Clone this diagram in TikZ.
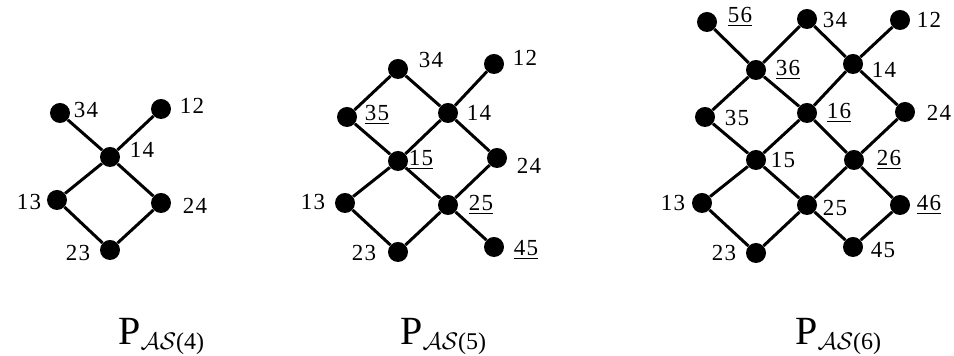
\documentclass[tikz,border=0pt]{standalone}
\usepackage{fontspec}
\setmainfont{Liberation Serif}
\newfontfamily\lblfont[LetterSpace=6]{Liberation Serif}
\newcommand{\capsub}[1]{\raisebox{-2.5pt}{\fontsize{12}{14}\selectfont$\mathcal{AS}$(#1)}}

\begin{document}
\begin{tikzpicture}[x=0.5pt, y=-0.5pt,
  dot/.style={circle, fill=black, inner sep=0pt, minimum size=10pt},
  lbl/.style={font=\fontsize{11.5}{13}\lblfont, inner sep=0pt},
  edge/.style={line width=1.5pt},
  capt/.style={font=\fontsize{20}{24}\selectfont, inner sep=0pt, anchor=base west}]
\useasboundingbox (0,0) rectangle (954,356);
% P_AS(4)
\node[dot] (a34) at (60,113) {};
\node[dot] (a12) at (161,109) {};
\node[dot] (a14) at (110,157) {};
\node[dot] (a13) at (57,200) {};
\node[dot] (a24) at (161,203) {};
\node[dot] (a23) at (110,250) {};
\draw[edge] (a34) -- (a14) -- (a12);
\draw[edge] (a14) -- (a13) -- (a23) -- (a24) -- (a14);
\node[lbl] (ta34) at (86,110) {34};
\node[lbl] (ta12) at (192,106) {12};
\node[lbl] (ta14) at (142,150) {14};
\node[lbl] (ta13) at (29,202) {13};
\node[lbl] (ta24) at (195,206) {24};
\node[lbl] (ta23) at (78,253) {23};
\node[capt] (capa) at (118,345) {P\capsub{4}};
% P_AS(5)
\node[dot] (b34) at (398,69) {};
\node[dot] (b12) at (494,64) {};
\node[dot] (b35) at (347,117) {};
\node[dot] (b14) at (448,113) {};
\node[dot] (b15) at (398,161) {};
\node[dot] (b24) at (497,158) {};
\node[dot] (b13) at (345,203) {};
\node[dot] (b25) at (448,205) {};
\node[dot] (b23) at (398,252) {};
\node[dot] (b45) at (494,247) {};
\draw[edge] (b35) -- (b34) -- (b14) -- (b12);
\draw[edge] (b35) -- (b15) -- (b14) -- (b24) -- (b25) -- (b45);
\draw[edge] (b15) -- (b13) -- (b23) -- (b25) -- (b15);
\node[lbl] (tb34) at (431,60) {34};
\node[lbl] (tb12) at (525,58) {12};
\node[lbl] (tb35) at (377,115) {\underline{35}};
\node[lbl] (tb14) at (479,113) {14};
\node[lbl] (tb15) at (421,160) {\underline{15}};
\node[lbl] (tb24) at (529,166) {24};
\node[lbl] (tb13) at (313,202) {13};
\node[lbl] (tb25) at (481,205) {\underline{25}};
\node[lbl] (tb23) at (364,253) {23};
\node[lbl] (tb45) at (526,250) {\underline{45}};
\node[capt] (capb) at (400,345) {P\capsub{5}};
% P_AS(6)
\node[dot] (c56) at (707,22) {};
\node[dot] (c34) at (807,19) {};
\node[dot] (c12) at (900,20) {};
\node[dot] (c36) at (756,70) {};
\node[dot] (c14) at (853,64) {};
\node[dot] (c35) at (705,117) {};
\node[dot] (c16) at (807,113) {};
\node[dot] (c24) at (905,112) {};
\node[dot] (c15) at (756,160) {};
\node[dot] (c26) at (854,160) {};
\node[dot] (c13) at (702,203) {};
\node[dot] (c25) at (807,205) {};
\node[dot] (c46) at (900,205) {};
\node[dot] (c23) at (756,253) {};
\node[dot] (c45) at (853,247) {};
\draw[edge] (c56) -- (c36) -- (c34) -- (c14) -- (c12);
\draw[edge] (c35) -- (c36) -- (c16) -- (c14) -- (c24);
\draw[edge] (c35) -- (c15) -- (c16) -- (c26) -- (c24);
\draw[edge] (c13) -- (c15) -- (c25) -- (c26) -- (c46);
\draw[edge] (c13) -- (c23) -- (c25) -- (c45) -- (c46);
\node[lbl] (tc56) at (740,17) {\underline{56}};
\node[lbl] (tc34) at (835,20) {34};
\node[lbl] (tc12) at (929,20) {12};
\node[lbl] (tc36) at (788,70) {\underline{36}};
\node[lbl] (tc14) at (884,70) {14};
\node[lbl] (tc35) at (737,118) {35};
\node[lbl] (tc16) at (839,113) {\underline{16}};
\node[lbl] (tc24) at (939,113) {24};
\node[lbl] (tc15) at (783,160) {15};
\node[lbl] (tc26) at (889,160) {\underline{26}};
\node[lbl] (tc13) at (673,203) {13};
\node[lbl] (tc25) at (835,208) {25};
\node[lbl] (tc46) at (929,205) {\underline{46}};
\node[lbl] (tc23) at (724,253) {23};
\node[lbl] (tc45) at (883,250) {45};
\node[capt] (capc) at (795,345) {P\capsub{6}};
\end{tikzpicture}
\end{document}
